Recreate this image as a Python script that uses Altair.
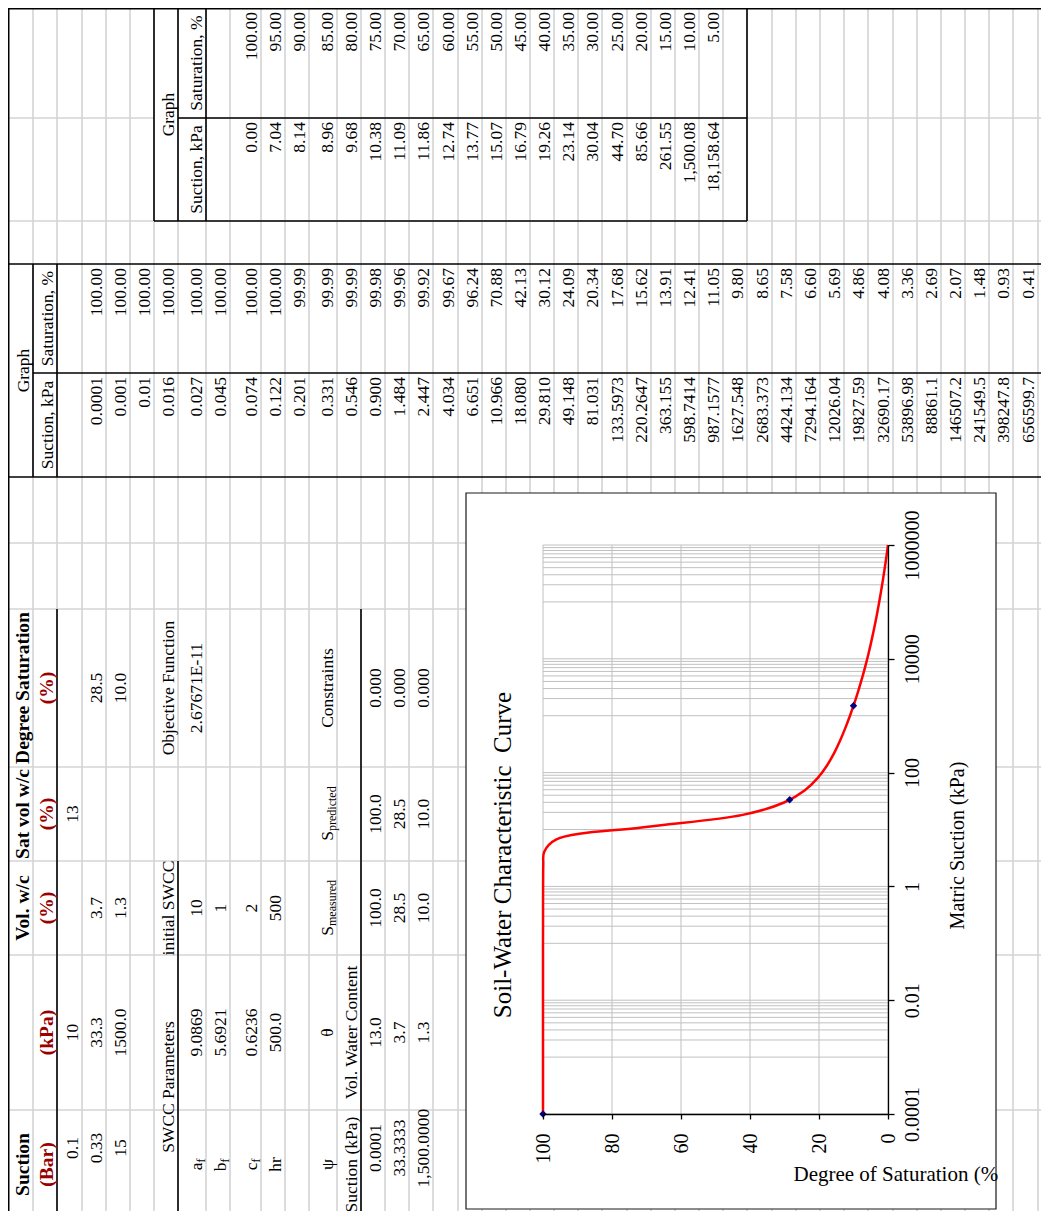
import altair as alt
import pandas as pd

SERIF = "Liberation Serif"

# ---------------------------------------------------------------- values
# "Graph" table (suction, kPa  /  saturation, %) = the fitted SWCC that is plotted
SUCTION_TXT = ["0.0001", "0.001", "0.01", "0.016", "0.027", "0.045", "0.074",
               "0.122", "0.201", "0.331", "0.546", "0.900", "1.484", "2.447",
               "4.034", "6.651", "10.966", "18.080", "29.810", "49.148",
               "81.031", "133.5973", "220.2647", "363.155", "598.7414",
               "987.1577", "1627.548", "2683.373", "4424.134", "7294.164",
               "12026.04", "19827.59", "32690.17", "53896.98", "88861.1",
               "146507.2", "241549.5", "398247.8", "656599.7", "1000000"]
SATURATION_TXT = ["100.00", "100.00", "100.00", "100.00", "100.00", "100.00",
                  "100.00", "100.00", "99.99", "99.99", "99.99", "99.98",
                  "99.96", "99.92", "99.67", "96.24", "70.88", "42.13", "30.12",
                  "24.09", "20.34", "17.68", "15.62", "13.91", "12.41", "11.05",
                  "9.80", "8.65", "7.58", "6.60", "5.69", "4.86", "4.08", "3.36",
                  "2.69", "2.07", "1.48", "0.93", "0.41", "0.00"]
# measured points
MEAS_SUCTION = [0.0001, 33.3333, 1500.0]
MEAS_SAT = [100.0, 28.5, 10.0]
# second "Graph" table
RIGHT_SUC_TXT = ["0.00", "7.04", "8.14", "8.96", "9.68", "10.38", "11.09", "11.86",
                 "12.74", "13.77", "15.07", "16.79", "19.26", "23.14", "30.04",
                 "44.70", "85.66", "261.55", "1,500.08", "18,158.64"]
RIGHT_SAT_TXT = ["100.00", "95.00", "90.00", "85.00", "80.00", "75.00", "70.00",
                 "65.00", "60.00", "55.00", "50.00", "45.00", "40.00", "35.00",
                 "30.00", "25.00", "20.00", "15.00", "10.00", "5.00"]
# axis ticks
SAT_TICKS = [0, 20, 40, 60, 80, 100]
SUC_TICKS = [0.0001, 0.01, 1, 100, 10000, 1000000]
SUC_MINOR = [m * 10.0 ** e for e in (-3, -1, 1, 3, 5) for m in range(1, 10)]

# ---------------------------------------------------------------- worksheet layout (rotated page)
ROW_EDGES = [8, 33, 57, 82, 106, 130, 154, 178, 206, 230, 261, 285, 309, 337,
             361, 385, 409, 433, 458, 482, 506, 530, 554, 578, 602, 627, 651,
             675, 699, 723, 747, 772, 796, 820, 844, 868, 893, 917, 941, 965,
             989, 1013, 1038, 1062]
BANDS = {"L": (8, 118), "K": (118, 221), "I": (264, 373), "H": (373, 477),
         "E": (609, 767), "D": (767, 861), "C": (861, 955), "B": (955, 1110),
         "A": (1110, 1219), "Ad": (1110, 1186), "AB": (955, 1219),
         "IH": (264, 477), "LK": (8, 221)}
GRAY_COLS = [118, 221, 543, 609, 767, 861, 955, 1110]
BLACK_SEGS = [
    (8, 0, 8, 1219, 3.0), (0, 8, 1049, 8, 3.0),
    (8, 264, 1049, 264, 1.6), (33, 373, 1049, 373, 1.6), (8, 477, 1049, 477, 1.6),
    (33, 264, 33, 477, 1.6), (57, 264, 57, 477, 1.6),
    (154, 8, 154, 221, 1.6), (178, 8, 178, 221, 1.6), (206, 8, 206, 221, 1.6),
    (747, 8, 747, 221, 1.6), (178, 118, 747, 118, 1.6), (154, 221, 747, 221, 1.6),
    (57, 609, 57, 1219, 1.6), (178, 861, 178, 1219, 1.6), (361, 609, 361, 1219, 1.6),
]
FRAME = (466, 493, 996, 1209)

X0, Y0 = 543, 545          # plot-area origin on the page
W, H = 345, 569

entries = []


def add(row, band, text, pos="c", kind="n", align=None, shift=0, lower=0):
    y0, y1 = BANDS[band]
    x = ROW_EDGES[row] - 4 + lower
    if pos == "r":
        y = y0 + 4
    elif pos == "l":
        y = y1 - 4
    else:
        y = (y0 + y1) / 2
    if align is None:
        align = {"r": "right", "l": "left", "c": "center"}[pos]
    entries.append(dict(x=x, y=y + shift, text=text, kind=kind, align=align))


# middle table
add(1, "IH", "Graph")
add(2, "H", "Suction, kPa")
add(2, "I", "Saturation, %")
for i, (s, t) in enumerate(zip(SUCTION_TXT, SATURATION_TXT)):
    add(4 + i, "H", s, "r")
    add(4 + i, "I", t, "r")
# right table
add(7, "LK", "Graph")
add(8, "K", "Suction, kPa")
add(8, "L", "Saturation, %")
for i, (s, t) in enumerate(zip(RIGHT_SUC_TXT, RIGHT_SAT_TXT)):
    add(10 + i, "K", s, "r")
    add(10 + i, "L", t, "r")
# left block
for band, t in [("A", "Suction"), ("C", "Vol. w/c"), ("D", "Sat vol w/c"), ("E", "Degree Saturation")]:
    add(1, band, t, kind="b")
for band, t in [("A", "(Bar)"), ("B", "(kPa)"), ("C", "(%)"), ("D", "(%)"), ("E", "(%)")]:
    add(2, band, t, kind="red")
LEFT_CELLS = [
    (3, "Ad", "0.1"), (3, "B", "10"), (3, "D", "13"),
    (4, "Ad", "0.33"), (4, "B", "33.3"), (4, "C", "3.7"), (4, "E", "28.5"),
    (5, "Ad", "15"), (5, "B", "1500.0"), (5, "C", "1.3"), (5, "E", "10.0"),
    (7, "AB", "SWCC Parameters"), (7, "C", "initial SWCC"), (7, "E", "Objective Function"),
    (8, "B", "9.0869"), (8, "C", "10"), (8, "E", "2.67671E-11"),
    (9, "B", "5.6921"), (9, "C", "1"),
    (10, "B", "0.6236"), (10, "C", "2"),
    (11, "A", "hr"), (11, "B", "500.0"), (11, "C", "500"),
    (13, "A", "\u03c8"), (13, "B", "\u03b8"), (13, "E", "Constraints"),
    (14, "A", "Suction (kPa)"), (14, "B", "Vol. Water Content"),
    (15, "Ad", "0.0001"), (15, "B", "13.0"), (15, "C", "100.0"), (15, "D", "100.0"), (15, "E", "0.000"),
    (16, "Ad", "33.3333"), (16, "B", "3.7"), (16, "C", "28.5"), (16, "D", "28.5"), (16, "E", "0.000"),
    (17, "Ad", "1,500.0000"), (17, "B", "1.3"), (17, "C", "10.0"), (17, "D", "10.0"), (17, "E", "0.000"),
]
for r, b, t in LEFT_CELLS:
    add(r, b, t)
for r, main in [(8, "a"), (9, "b"), (10, "c")]:
    add(r, "A", main, align="right", shift=-2)
    add(r, "A", "f", kind="sub", align="left", shift=-2, lower=3)
add(13, "C", "S", align="right", shift=18)
add(13, "C", "measured", kind="sub", align="left", shift=18, lower=3)
add(13, "D", "S", align="right", shift=17)
add(13, "D", "predicted", kind="sub", align="left", shift=17, lower=3)

text_df = pd.DataFrame(entries)

grid_rows = []
for x in ROW_EDGES[1:]:
    grid_rows.append((x, 8, x, 1219))
for y in GRAY_COLS:
    if y == 118:
        grid_rows += [(8, y, 154, y), (178, y, 1049, y)]
    else:
        grid_rows.append((8, y, 1049, y))
grid_df = pd.DataFrame(grid_rows, columns=["x1", "y1", "x2", "y2"])
black_df = pd.DataFrame(BLACK_SEGS, columns=["x1", "y1", "x2", "y2", "w"])
frame_df = pd.DataFrame([FRAME], columns=["x1", "y1", "x2", "y2"])
title_df = pd.DataFrame([dict(x=511, y=855, text="Soil-Water Characteristic \u00a0Curve")])


def sx(field):
    return alt.X(field, type="quantitative", axis=None,
                 scale=alt.Scale(domain=[0, 1049], range=[-X0, 1049 - X0], nice=False, zero=False))


def sy(field):
    return alt.Y(field, type="quantitative", axis=None,
                 scale=alt.Scale(domain=[0, 1219], range=[-Y0, 1219 - Y0], nice=False, zero=False))


layers = []
layers.append(alt.Chart(grid_df).mark_rule(color="#d4d4d4", strokeWidth=1.6).encode(
    x=sx("x1"), y=sy("y1"), x2="x2:Q", y2="y2:Q"))
layers.append(alt.Chart(black_df).mark_rule(color="black").encode(
    x=sx("x1"), y=sy("y1"), x2="x2:Q", y2="y2:Q",
    strokeWidth=alt.StrokeWidth("w:Q", scale=None)))

STYLES = {"n": dict(fontSize=17.5, fontWeight="normal", color="black"),
          "b": dict(fontSize=19.5, fontWeight="bold", color="black"),
          "red": dict(fontSize=19.5, fontWeight="bold", color="#990000"),
          "sub": dict(fontSize=12, fontWeight="normal", color="black")}
for (kind, align), sub in text_df.groupby(["kind", "align"]):
    st = STYLES[kind]
    layers.append(alt.Chart(sub.reset_index(drop=True)).mark_text(
        angle=270, align=align, baseline="alphabetic", font=SERIF, **st).encode(
        x=sx("x"), y=sy("y"), text="text:N"))

layers.append(alt.Chart(frame_df).mark_rect(fill="white", stroke="#1a1a1a", strokeWidth=1.2).encode(
    x=sx("x1"), y=sy("y1"), x2="x2:Q", y2="y2:Q"))
layers.append(alt.Chart(title_df).mark_text(
    angle=270, align="center", baseline="alphabetic", font=SERIF, fontSize=25, color="black").encode(
    x=sx("x"), y=sy("y"), text="text:N"))

# ---------------------------------------------------------------- the SWCC plot
sat_scale = alt.Scale(domain=[0, 100], reverse=True, nice=False, zero=False)
suc_scale = alt.Scale(type="log", domain=[0.0001, 1000000], nice=False)

curve_df = pd.DataFrame({"suc": [float(s) for s in SUCTION_TXT],
                         "sat": [float(s) for s in SATURATION_TXT]})
meas_df = pd.DataFrame({"suc": MEAS_SUCTION, "sat": MEAS_SAT})

layers.append(alt.Chart(pd.DataFrame({"sat": SAT_TICKS})).mark_rule(
    color="#c0c0c0", strokeWidth=1).encode(x=alt.X("sat:Q", scale=sat_scale, axis=None)))
layers.append(alt.Chart(pd.DataFrame({"suc": SUC_TICKS + SUC_MINOR})).mark_rule(
    color="#c0c0c0", strokeWidth=1).encode(y=alt.Y("suc:Q", scale=suc_scale, axis=None)))

x_axis = alt.Axis(values=SAT_TICKS, format="d", orient="bottom", grid=False, zindex=1,
                  domainColor="black", domainWidth=1.3, tickColor="black", tickWidth=1.3,
                  tickSize=5, labelAngle=270, labelAlign="right", labelBaseline="middle",
                  labelPadding=14, labelFont=SERIF, labelFontSize=20, labelColor="black",
                  labelFlush=False, labelOverlap=False,
                  title="Degree of Saturation (%", titleFont=SERIF, titleFontSize=21,
                  titleFontWeight="normal", titleColor="black", titleAngle=0,
                  titleAlign="left", titleBaseline="alphabetic", titleX=250, titleY=66)
y_axis = alt.Axis(values=SUC_TICKS, format="~f", orient="right", grid=False, zindex=1,
                  domainColor="black", domainWidth=1.3, tickColor="black", tickWidth=1.3,
                  tickSize=6, labelAngle=270, labelAlign="center", labelBaseline="top",
                  labelPadding=8, labelFont=SERIF, labelFontSize=20, labelColor="black",
                  labelFlush=False, labelOverlap=False,
                  title="Matric Suction (kPa)", titleFont=SERIF, titleFontSize=20,
                  titleFontWeight="normal", titleColor="black", titleAngle=270,
                  titleAlign="center", titleBaseline="alphabetic", titleX=75, titleY=300)

layers.append(alt.Chart(curve_df).mark_line(
    color="#ff0000", strokeWidth=2.5, interpolate="catmull-rom").encode(
    x=alt.X("sat:Q", scale=sat_scale, axis=x_axis),
    y=alt.Y("suc:Q", scale=suc_scale, axis=y_axis),
    order=alt.Order("suc:Q")))
layers.append(alt.Chart(meas_df).mark_point(
    shape="diamond", filled=True, size=55, color="#000080", opacity=1).encode(
    x=alt.X("sat:Q", scale=sat_scale, axis=None),
    y=alt.Y("suc:Q", scale=suc_scale, axis=None)))

chart = alt.layer(*layers).resolve_scale(x="independent", y="independent").properties(
    width=W, height=H, background="white",
    autosize=alt.AutoSizeParams(type="none"),
    padding={"left": X0 - 8, "top": Y0 - 8, "right": 1033 - (X0 - 8) - W,
             "bottom": 1203 - (Y0 - 8) - H},
).configure_view(strokeWidth=0)

chart.save("out.html", embed_options={"renderer": "svg", "actions": False})
